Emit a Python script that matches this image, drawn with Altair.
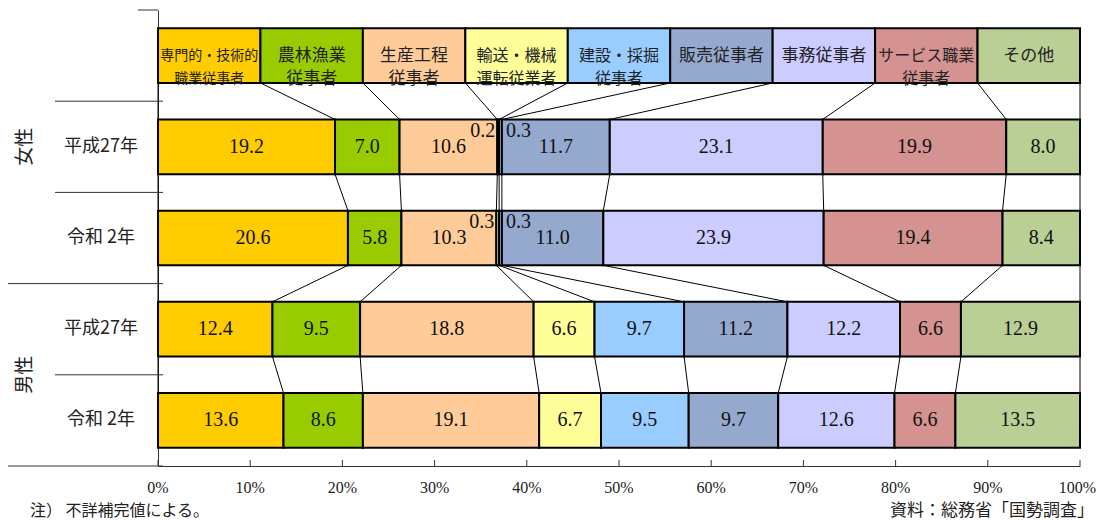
import altair as alt
import pandas as pd

# ---- data -------------------------------------------------------------
categories = ["専門的・技術的職業従事者", "農林漁業従事者", "生産工程従事者",
              "輸送・機械運転従業者", "建設・採掘従事者", "販売従事者",
              "事務従事者", "サービス職業従事者", "その他"]
header_text = ["専門的・技術的\n職業従事者", "農林漁業\n従事者", "生産工程\n従事者",
               "輸送・機械\n運転従業者", "建設・採掘\n従事者", "販売従事者",
               "事務従事者", "サービス職業\n従事者", "その他"]
palette = ["#FFCC00", "#99CC00", "#FFCC99", "#FFFF99", "#99CCFF",
           "#95A9CF", "#CCCCFF", "#D49290", "#BACF95"]
header_font = [14, 17, 17, 16, 16, 17, 17, 16, 17]

row_labels = ["平成27年", "令和 2年", "平成27年", "令和 2年"]
group_labels = ["女性", "男性"]

female_h27 = [19.2, 7.0, 10.6, 0.2, 0.3, 11.7, 23.1, 19.9, 8.0]
female_r2 = [20.6, 5.8, 10.3, 0.3, 0.3, 11.0, 23.9, 19.4, 8.4]
male_h27 = [12.4, 9.5, 18.8, 6.6, 9.7, 11.2, 12.2, 6.6, 12.9]
male_r2 = [13.6, 8.6, 19.1, 6.7, 9.5, 9.7, 12.6, 6.6, 13.5]

tick_values = [0, 0.1, 0.2, 0.3, 0.4, 0.5, 0.6, 0.7, 0.8, 0.9, 1.0]

note_left = "注） 不詳補完値による。"
note_right = "資料：総務省「国勢調査」"

# ---- tables -----------------------------------------------------------
series = [female_h27, female_r2, male_h27, male_r2]
HALF = 0.3


def cum(vals):
    tot = sum(vals)
    out = [0.0]
    for v in vals:
        out.append(out[-1] + v / tot)
    return out


# header row (equal widths) + 4 data rows; centers on a 0..5 scale
centers = [4.5, 3.5, 2.5, 1.5, 0.5]
cums = [cum([1] * len(categories))] + [cum(s) for s in series]

seg_rows = []
for r, c in enumerate(centers):
    vals = [1] * len(categories) if r == 0 else series[r - 1]
    cm = cums[r]
    for k, cat in enumerate(categories):
        seg_rows.append(dict(row=r, cat=cat, val=vals[k], x0=cm[k], x1=cm[k + 1],
                             xm=(cm[k] + cm[k + 1]) / 2, y0=c - HALF, y1=c + HALF,
                             yc=c, ys=c + 0.175, idx=k,
                             head=header_text[k], fs=header_font[k]))
seg = pd.DataFrame(seg_rows)

link_rows = []
for r in range(len(centers) - 1):
    for k in range(len(categories) + 1):
        link_rows.append(dict(x0=cums[r][k], x1=cums[r + 1][k],
                              y0=centers[r] - HALF, y1=centers[r + 1] + HALF))
links = pd.DataFrame(link_rows)

rowlab = pd.DataFrame(dict(label=row_labels, yc=centers[1:]))
grouplab = pd.DataFrame(dict(label=group_labels, yc=[3.5, 1.0]))
ticks = pd.DataFrame(dict(x=tick_values))

X = alt.Scale(domain=[0, 1], nice=False, zero=False)
Y = alt.Scale(domain=[0, 5], nice=False, zero=False)
col = alt.Color("cat:N", scale=alt.Scale(domain=categories, range=palette), legend=None)

JP = "Noto Sans CJK JP"
NUM = "Liberation Serif"

base = alt.Chart(seg)

bars = base.mark_rect(stroke="black", strokeWidth=2).encode(
    x=alt.X("x0:Q", scale=X,
            axis=alt.Axis(values=tick_values, labels=False, ticks=False, grid=False,
                          domainColor="#333", title=None)),
    x2="x1:Q",
    y=alt.Y("y0:Q", scale=Y,
            axis=alt.Axis(labels=False, ticks=False, grid=False, domainColor="#333",
                          title=None)),
    y2="y1:Q",
    color=col,
)

head_text = base.transform_filter("datum.row == 0").mark_text(
    font=JP, lineBreak="\n", lineHeight=23, baseline="middle", align="center",
    color="#222"
).encode(
    x="xm:Q", y="yc:Q", text="head:N",
    size=alt.Size("fs:Q", scale=None, legend=None),
)

val_text = base.transform_filter("datum.row > 0 && datum.val >= 1").mark_text(
    font=NUM, fontSize=20, baseline="middle", align="center", color="#111"
).encode(x="xm:Q", y="yc:Q", text=alt.Text("val:Q", format=".1f"))

small_left = base.transform_filter("datum.row > 0 && datum.val < 1 && datum.idx == 3").mark_text(
    font=NUM, fontSize=20, baseline="middle", align="right", dx=-2, color="#111"
).encode(x="x0:Q", y="ys:Q", text=alt.Text("val:Q", format=".1f"))

small_right = base.transform_filter("datum.row > 0 && datum.val < 1 && datum.idx == 4").mark_text(
    font=NUM, fontSize=20, baseline="middle", align="left", dx=4, color="#111"
).encode(x="x1:Q", y="ys:Q", text=alt.Text("val:Q", format=".1f"))

link_lines = alt.Chart(links).mark_rule(color="black", strokeWidth=1).encode(
    x=alt.X("x0:Q", scale=X), x2="x1:Q", y=alt.Y("y0:Q", scale=Y), y2="y1:Q"
)

tick_marks = alt.Chart(ticks).mark_rule(color="#333", strokeWidth=1).encode(
    x=alt.X("x:Q", scale=X), y=alt.value(450), y2=alt.value(456)
)

tick_base = alt.Chart(ticks)
tick_labels = tick_base.transform_filter("datum.x < 1").mark_text(
    font=NUM, fontSize=16, align="center", baseline="middle", color="#222"
).encode(x=alt.X("x:Q", scale=X), y=alt.value(478),
         text=alt.Text("x:Q", format=".0%"))
tick_label_end = tick_base.transform_filter("datum.x >= 1").mark_text(
    font=NUM, fontSize=16, align="right", baseline="middle", dx=16, color="#222"
).encode(x=alt.X("x:Q", scale=X), y=alt.value(478),
         text=alt.Text("x:Q", format=".0%"))

row_text = alt.Chart(rowlab).mark_text(
    font=JP, fontSize=18, align="center", baseline="middle", color="#222"
).encode(x=alt.value(-57), y=alt.Y("yc:Q", scale=Y), text="label:N")

group_text = alt.Chart(grouplab).mark_text(
    font=JP, fontSize=19, align="center", baseline="middle", angle=270, color="#222"
).encode(x=alt.value(-133), y=alt.Y("yc:Q", scale=Y), text="label:N")

sep_short = alt.Chart(pd.DataFrame(dict(y=[4.0, 3.0, 1.0]))).mark_rule(
    color="#333", strokeWidth=1
).encode(x=alt.value(-103), x2=alt.value(5), y=alt.Y("y:Q", scale=Y))

sep_long = alt.Chart(pd.DataFrame(dict(y=[2.0, 0.0]))).mark_rule(
    color="#333", strokeWidth=1
).encode(x=alt.value(-150), x2=alt.value(5), y=alt.Y("y:Q", scale=Y))

top_tick = alt.Chart(pd.DataFrame(dict(y=[5.0]))).mark_rule(
    color="#333", strokeWidth=1
).encode(x=alt.value(-20), x2=alt.value(0), y=alt.Y("y:Q", scale=Y))

notes = alt.Chart(pd.DataFrame(dict(t=[note_left]))).mark_text(
    font=JP, fontSize=16, align="left", baseline="middle", color="#222"
).encode(x=alt.value(-128), y=alt.value(501), text="t:N")

notes_r = alt.Chart(pd.DataFrame(dict(t=[note_right]))).mark_text(
    font=JP, fontSize=17, align="right", baseline="middle", color="#222"
).encode(x=alt.value(936), y=alt.value(501), text="t:N")

chart = alt.layer(
    link_lines, bars, head_text, val_text, small_left, small_right, tick_marks,
    tick_labels, tick_label_end,
    row_text, group_text, sep_short, sep_long, top_tick, notes, notes_r
).properties(
    width=922, height=456,
    padding={"left": 150, "top": 2, "right": 16, "bottom": 54},
    autosize=alt.AutoSizeParams(type="none"),
).configure_view(stroke=None)

chart.save("out.html", embed_options={"renderer": "svg", "actions": False})
